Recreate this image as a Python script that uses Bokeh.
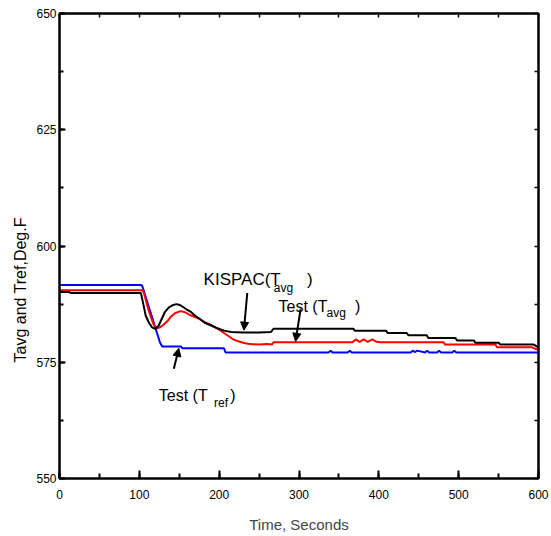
import math
from bokeh.plotting import figure
from bokeh.models import (Range1d, SingleIntervalTicker, FixedTicker, LinearAxis, Label, Arrow,
                          NormalHead, Title)
from bokeh.embed import file_html
from bokeh.resources import INLINE

# ---- data ----
t_ref = [0, 101, 103.5, 126, 128.7, 152, 154, 206, 208, 337, 339.5, 342, 361, 363.5, 366,
         440, 442.5, 445, 448, 458, 460.5, 463, 473, 475.5, 478, 492, 494.5, 497, 600]
v_ref = [591.6, 591.6, 591.5, 579.2, 578.4, 578.4, 578.0, 578.0, 577.1, 577.1, 577.5, 577.1, 577.1,
         577.5, 577.1, 577.1, 577.5, 577.2, 577.5, 577.1, 577.5, 577.1, 577.1, 577.5, 577.1,
         577.1, 577.5, 577.1, 577.1]

t_avg_test = [0, 104, 106, 109, 112, 115, 118, 122, 126, 130, 135, 140, 145, 152, 158, 164, 170,
              176, 182, 189, 195, 200, 206, 212, 218, 224, 230, 236, 240, 250, 260, 266, 268,
              367, 371, 376, 381, 386, 392, 397, 402, 481, 483, 546, 548, 592, 596, 600]
v_avg_test = [590.5, 590.5, 589.8, 587.8, 586.0, 584.5, 583.1, 582.3, 582.5, 583.0, 583.8, 584.9,
              585.6, 586.0, 585.7, 585.1, 584.7, 584.2, 583.6, 583.1, 582.5, 582.0, 581.3, 580.6,
              579.9, 579.5, 579.2, 579.0, 578.9, 578.8, 578.9, 578.8, 579.3,
              579.3, 579.9, 579.4, 579.9, 579.4, 579.9, 579.4, 579.3, 579.3, 578.8,
              578.8, 578.2, 578.2, 577.9, 577.7]

t_avg_kispac = [0, 12, 14, 102, 105, 108, 112, 116, 120, 124, 128, 132, 137, 142, 147, 152, 158,
                164, 170, 176, 182, 190, 198, 206, 215, 230, 250, 265, 268, 368, 370, 409, 411,
                435, 437, 460, 462, 496, 498, 519, 521, 550, 552, 594, 600]
v_avg_kispac = [590.1, 590.1, 589.9, 589.9, 587.5, 585.0, 583.5, 582.5, 582.2, 582.8, 584.3,
                585.8, 586.8, 587.3, 587.5, 587.2, 586.5, 585.9, 585.0, 584.3, 583.5, 582.9,
                582.3, 581.8, 581.5, 581.4, 581.4, 581.5, 582.2, 582.2, 581.8, 581.8, 581.3,
                581.3, 580.8, 580.8, 580.2, 580.2, 579.7, 579.7, 579.2, 579.2, 578.8, 578.8, 578.2]

x_min, x_max, x_step = 0, 600, 100
y_min, y_max, y_step = 550, 650, 25

FONT = "Liberation Sans"

p = figure(frame_width=479, frame_height=465, output_backend="svg", toolbar_location=None,
           x_range=Range1d(x_min, x_max), y_range=Range1d(y_min, y_max),
           min_border_left=59, min_border_top=13, min_border_right=13, min_border_bottom=58,
           background_fill_color="white", border_fill_color="white")
p.xgrid.visible = False
p.ygrid.visible = False
p.outline_line_color = "black"
p.outline_line_width = 2

p.xaxis.ticker = SingleIntervalTicker(interval=x_step, num_minor_ticks=2)
p.yaxis.ticker = SingleIntervalTicker(interval=y_step, num_minor_ticks=2)

for ax in (p.xaxis[0], p.yaxis[0]):
    ax.axis_line_width = 2
    ax.axis_line_color = "black"
    ax.major_tick_out = 0
    ax.minor_tick_out = 0
    ax.major_tick_line_width = 2
    ax.minor_tick_line_width = 2
    ax.major_label_text_font = FONT
    ax.major_label_text_font_size = "12px"
    ax.major_label_text_color = "black"

p.xaxis.major_tick_in = 8
p.xaxis.minor_tick_in = 5
p.xaxis.major_label_standoff = 11
p.xaxis.axis_label = "Time, Seconds"
p.xaxis.axis_label_text_font = FONT
p.xaxis.axis_label_text_font_style = "normal"
p.xaxis.axis_label_text_font_size = "15px"
p.xaxis.axis_label_standoff = 14

p.yaxis.major_tick_in = 6
p.yaxis.minor_tick_in = 4
p.yaxis.major_label_standoff = 3

# top and right frame ticks (minor-only tickers, so no tick labels)
top_ticks = [x_min + i * x_step / 2 for i in range(int((x_max - x_min) / (x_step / 2)) + 1)]
right_ticks = [y_min + i * y_step / 2 for i in range(int((y_max - y_min) / (y_step / 2)) + 1)]
top = LinearAxis(ticker=FixedTicker(ticks=[], minor_ticks=top_ticks),
                 minor_tick_in=4, minor_tick_out=0, major_tick_in=0, major_tick_out=0,
                 axis_line_width=2, minor_tick_line_width=1.5, minor_tick_line_color="black")
p.add_layout(top, "above")
right = LinearAxis(ticker=FixedTicker(ticks=[], minor_ticks=right_ticks),
                   minor_tick_in=4, minor_tick_out=0, major_tick_in=0, major_tick_out=0,
                   axis_line_width=2, minor_tick_line_width=1.5, minor_tick_line_color="black")
p.add_layout(right, "right")

p.line(t_ref, v_ref, line_color="#0000ff", line_width=2)
p.line(t_avg_test, v_avg_test, line_color="#ff0000", line_width=2)
p.line(t_avg_kispac, v_avg_kispac, line_color="black", line_width=2)

# y-axis title as a left-side title, placed below centre as in the reference
p.add_layout(Title(text="Tavg and Tref,Deg.F", align="left", offset=116,
                   text_font=FONT, text_font_size="16px", text_font_style="normal",
                   text_color="black"), "left")

def lab(x, y, txt, size="16px"):
    p.add_layout(Label(x=x, y=y, text=txt, text_align="left", text_baseline="alphabetic",
                       text_font=FONT, text_font_size=size, text_color="black"))

# KISPAC(Tavg)
lab(180.5, 592.8, "KISPAC(T", "17px")
lab(268.5, 591.0, "avg", "12px")
lab(310.0, 592.8, ")", "17px")
# Test (Tavg)
lab(274.4, 586.9, "Test (T")
lab(334.6, 585.6, "avg", "12px")
lab(370.0, 586.9, ")")
# Test (Tref)
lab(124.4, 567.8, "Test (T")
lab(193.5, 566.2, "ref", "12px")
lab(214.0, 567.8, ")")

def arrow(x0, y0, x1, y1):
    p.add_layout(Arrow(x_start=x0, y_start=y0, x_end=x1, y_end=y1, line_width=2,
                       line_color="black",
                       end=NormalHead(size=8, fill_color="black", line_color="black")))

arrow(235.2, 589.9, 231.0, 581.9)
arrow(302.0, 586.4, 295.7, 579.5)
arrow(143.2, 573.6, 149.5, 578.0)

open("out.html", "w").write(file_html(p, INLINE))
